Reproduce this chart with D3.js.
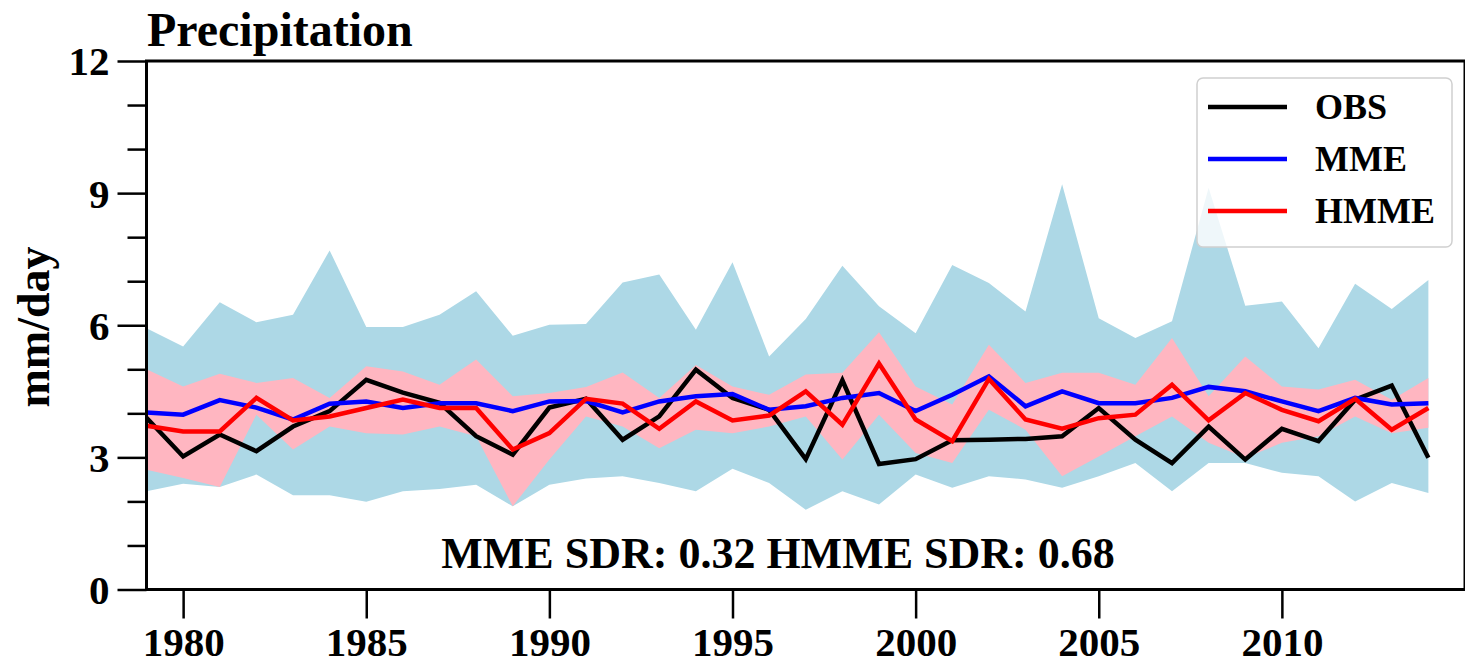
<!DOCTYPE html>
<html>
<head>
<meta charset="utf-8">
<script src="https://cdn.jsdelivr.net/npm/d3@7"></script>
<style>
  html, body { margin: 0; padding: 0; background: #fff; }
  svg { display: block; }
  text { font-family: "Liberation Serif", "Times New Roman", serif; font-weight: bold; fill: #000; }
</style>
</head>
<body>
<svg id="chart" width="1465" height="665"></svg>
<script>
const years = d3.range(1979, 2015);
const obs = [3.9, 3.02, 3.52, 3.14, 3.7, 4.05, 4.76, 4.47, 4.24, 3.48, 3.06, 4.13, 4.33, 3.4, 3.93, 4.99, 4.35, 4.08, 2.96, 4.75, 2.85, 2.96, 3.39, 3.4, 3.42, 3.48, 4.12, 3.4, 2.87, 3.7, 2.95, 3.65, 3.37, 4.31, 4.63, 2.99];
const mme = [4.02, 3.97, 4.3, 4.13, 3.86, 4.22, 4.27, 4.12, 4.23, 4.23, 4.05, 4.27, 4.28, 4.02, 4.27, 4.39, 4.44, 4.08, 4.16, 4.35, 4.46, 4.05, 4.42, 4.84, 4.16, 4.5, 4.23, 4.23, 4.35, 4.6, 4.5, 4.27, 4.05, 4.35, 4.2, 4.23];
const hmme = [3.72, 3.59, 3.59, 4.35, 3.84, 3.93, 4.12, 4.31, 4.12, 4.12, 3.18, 3.55, 4.33, 4.22, 3.65, 4.27, 3.84, 3.95, 4.5, 3.74, 5.13, 3.86, 3.37, 4.78, 3.86, 3.65, 3.89, 3.97, 4.65, 3.84, 4.46, 4.08, 3.82, 4.33, 3.63, 4.12];
const mmeUpper = [5.93, 5.52, 6.52, 6.07, 6.24, 7.7, 5.96, 5.96, 6.24, 6.77, 5.76, 6.01, 6.03, 6.97, 7.15, 5.9, 7.43, 5.29, 6.14, 7.35, 6.43, 5.82, 7.37, 6.96, 6.31, 9.2, 6.16, 5.71, 6.09, 9.12, 6.44, 6.54, 5.48, 6.94, 6.37, 7.03];
const mmeLower = [2.23, 2.4, 2.33, 2.61, 2.14, 2.14, 1.99, 2.23, 2.28, 2.38, 1.89, 2.38, 2.52, 2.57, 2.42, 2.23, 2.74, 2.42, 1.81, 2.23, 1.93, 2.61, 2.31, 2.57, 2.5, 2.31, 2.57, 2.87, 2.23, 2.87, 2.87, 2.65, 2.57, 2.0, 2.42, 2.19];
const hmmeUpper = [5.0, 4.61, 4.9, 4.69, 4.8, 4.35, 5.07, 4.95, 4.65, 5.22, 4.39, 4.46, 4.6, 4.93, 4.35, 5.1, 4.61, 4.42, 4.88, 4.92, 5.84, 4.61, 4.2, 5.56, 4.69, 4.92, 4.92, 4.65, 5.71, 4.39, 5.29, 4.61, 4.54, 4.76, 4.31, 4.8];
const hmmeLower = [2.72, 2.53, 2.33, 3.97, 3.18, 3.7, 3.55, 3.52, 3.7, 3.48, 1.89, 2.95, 3.93, 3.7, 3.21, 3.63, 3.55, 3.7, 3.93, 2.95, 3.97, 3.1, 2.87, 4.08, 3.63, 2.57, 3.02, 3.48, 3.93, 3.33, 2.99, 3.33, 3.48, 3.93, 3.55, 3.67];
const xTicks = [1980, 1985, 1990, 1995, 2000, 2005, 2010];
const yTicks = [0, 3, 6, 9, 12];
const yMinorTicks = d3.range(0, 13, 1);
const seriesNames = ["OBS", "MME", "HMME"];
const seriesColors = ["#000000", "#0000ff", "#ff0000"];
const titleText = "Precipitation";
const yLabel = "mm/day";
const sdrText = "MME SDR: 0.32 HMME SDR: 0.68";

(function () {
const svg = d3.select("#chart");
const mLeft = 146.5, mRight = 1465, mTop = 61, mBottom = 589.5;
const x = d3.scaleLinear().domain([1979, 2015]).range([mLeft, mRight]);
const y = d3.scaleLinear().domain([0, 12]).range([mBottom, mTop]);

const area = (lo, hi) => d3.area().x((d, i) => x(years[i])).y0((d, i) => y(lo[i])).y1((d, i) => y(hi[i]));
svg.append("path").datum(years).attr("d", area(mmeLower, mmeUpper)).attr("fill", "#add8e6");
svg.append("path").datum(years).attr("d", area(hmmeLower, hmmeUpper)).attr("fill", "#ffb6c1");

const line = d3.line().x((d, i) => x(years[i])).y(d => y(d));
[obs, mme, hmme].forEach((s, k) => {
  svg.append("path").datum(s).attr("d", line).attr("fill", "none")
    .attr("stroke", seriesColors[k]).attr("stroke-width", 4.5).attr("stroke-linejoin", "miter");
});

// axes
const yMinor = svg.append("g").attr("transform", `translate(${mLeft},0)`)
  .call(d3.axisLeft(y).tickValues(yMinorTicks.filter(v => v % 3 !== 0)).tickSize(19).tickFormat(""));
const yAxis = svg.append("g").attr("transform", `translate(${mLeft},0)`)
  .call(d3.axisLeft(y).tickValues(yTicks).tickSize(29).tickPadding(8).tickFormat(d3.format("d")));
const xAxis = svg.append("g").attr("transform", `translate(0,${mBottom})`)
  .call(d3.axisBottom(x).tickValues(xTicks).tickSize(29).tickPadding(8).tickFormat(d3.format("d")));
[yMinor, yAxis, xAxis].forEach(g => {
  g.select(".domain").remove();
  g.selectAll(".tick line").attr("stroke", "#000").attr("stroke-width", 2.5);
  g.selectAll(".tick text").style("font-size", "41px").style("font-family", "Liberation Serif").style("font-weight", "bold");
});
yAxis.selectAll(".tick text").attr("dy", "0.34em");
xAxis.selectAll(".tick text").attr("dy", "0.71em");

// frame
svg.append("line").attr("x1", mLeft).attr("x2", mLeft).attr("y1", mTop).attr("y2", mBottom).attr("stroke", "#000").attr("stroke-width", 3);
svg.append("line").attr("x1", mLeft - 1.5).attr("x2", mRight).attr("y1", mBottom).attr("y2", mBottom).attr("stroke", "#000").attr("stroke-width", 3);
svg.append("line").attr("x1", mLeft - 1.5).attr("x2", mRight).attr("y1", mTop).attr("y2", mTop).attr("stroke", "#000").attr("stroke-width", 3);
svg.append("line").attr("x1", mRight).attr("x2", mRight).attr("y1", mTop).attr("y2", mBottom).attr("stroke", "#000").attr("stroke-width", 3);

// title
svg.append("text").attr("x", 147).attr("y", 46).style("font-size", "48px").text(titleText);
// y label
svg.append("text").attr("transform", `translate(49,${327}) rotate(-90)`).attr("text-anchor", "middle")
  .style("font-size", "46px").text(yLabel);
// SDR
svg.append("text").attr("x", 778).attr("y", 568).attr("text-anchor", "middle").style("font-size", "44px").text(sdrText);

// legend
const lg = svg.append("g");
lg.append("rect").attr("x", 1197).attr("y", 78).attr("width", 255).attr("height", 169).attr("rx", 6)
  .attr("fill", "#fff").attr("fill-opacity", 0.8).attr("stroke", "#d0d0d0").attr("stroke-width", 1.5);
const legY = [107, 159, 211];
seriesNames.forEach((n, k) => {
  lg.append("line").attr("x1", 1208).attr("x2", 1287).attr("y1", legY[k]).attr("y2", legY[k])
    .attr("stroke", seriesColors[k]).attr("stroke-width", 4.5);
  lg.append("text").attr("x", 1315).attr("y", legY[k]).attr("dy", "0.34em").style("font-size", "36px").text(n);
});
})();
</script>
</body>
</html>
